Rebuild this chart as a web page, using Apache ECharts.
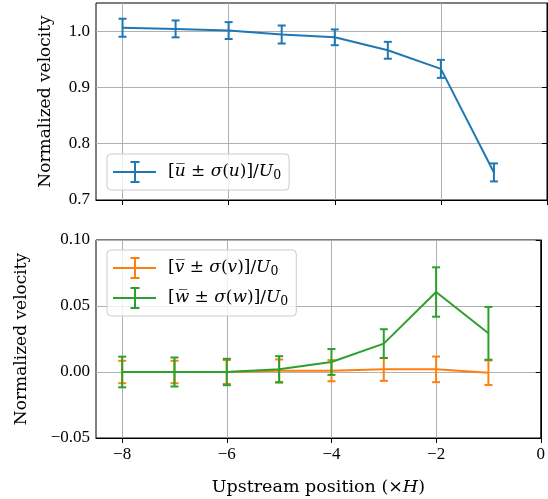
<!DOCTYPE html>
<html>
<head>
<meta charset="utf-8">
<script src="https://cdn.jsdelivr.net/npm/echarts@6/dist/echarts.min.js"></script>
<style>
  html, body { margin: 0; padding: 0; background: #fff; }
  #chart { width: 548px; height: 499px; }
</style>
</head>
<body>
<div id="chart"></div>
<script>
// Upstream stations (multiples of obstacle height H)
const upstream = [-8, -7, -6, -5, -4, -3, -2, -1];

// Streamwise component: mean and standard deviation, normalised by U0
const uMean = [1.006, 1.004, 1.001, 0.994, 0.989, 0.966, 0.933, 0.749];
const uStd  = [0.016, 0.015, 0.015, 0.016, 0.014, 0.015, 0.016, 0.016];

// Lateral component
const vMean = [0.000, 0.000, 0.000, 0.001, 0.001, 0.002, 0.002, -0.0005];
const vStd  = [0.0085, 0.0085, 0.009, 0.0085, 0.008, 0.0087, 0.0097, 0.0093];

// Vertical component
const wMean = [0.000, 0.000, 0.000, 0.002, 0.0076, 0.0215, 0.0606, 0.0293];
const wStd  = [0.0116, 0.011, 0.010, 0.010, 0.0098, 0.0109, 0.0187, 0.020];

const xTicks = [-8, -6, -4, -2, 0];
const yTicksTop = [0.7, 0.8, 0.9, 1.0];
const yTicksBottom = [-0.05, 0.00, 0.05, 0.10];

const nameU = 'u';
const nameV = 'v';
const nameW = 'w';

const C_BLUE = '#1f77b4', C_ORANGE = '#ff7f0e', C_GREEN = '#2ca02c';
const TICK_FONT = 'Liberation Serif';
const TEXT_FONT = 'DejaVu Serif';
const minus = s => String(s).replace('-', '\u2212');

// Legend glyph: line with a capped vertical error bar
const errIcon = 'path://M0 10H43V12H0Z M21 0H23V22H21Z M17.5 0H26.5V2H17.5Z M17.5 20H26.5V22H17.5Z';

function legendText(c) {
  return '{b|[}{i|' + c + '\u0305}{b| \u00b1 }{i|\u03c3}{b|(}{i|' + c + '}{b|)]/}{i|U}{s|0}';
}
const legendRich = {
  b: { fontFamily: TEXT_FONT, fontSize: 17, color: '#000' },
  i: { fontFamily: TEXT_FONT, fontSize: 17, fontStyle: 'italic', color: '#000' },
  s: { fontFamily: TEXT_FONT, fontSize: 12.5, color: '#000', padding: [7, 0, 0, 0] }
};

function bars(mean, std) {
  return upstream.map((x, i) => [x, mean[i] - std[i], mean[i] + std[i]]);
}

function errorRenderer(color) {
  return function (params, api) {
    const x = api.value(0);
    const lo = api.coord([x, api.value(1)]);
    const hi = api.coord([x, api.value(2)]);
    const cap = 4;
    const style = { stroke: color, lineWidth: 2, fill: null };
    return {
      type: 'group',
      children: [
        { type: 'line', shape: { x1: lo[0], y1: lo[1], x2: hi[0], y2: hi[1] }, style },
        { type: 'line', shape: { x1: lo[0] - cap, y1: lo[1], x2: lo[0] + cap, y2: lo[1] }, style },
        { type: 'line', shape: { x1: hi[0] - cap, y1: hi[1], x2: hi[0] + cap, y2: hi[1] }, style }
      ]
    };
  };
}

function xAxisFor(gridIndex, showLabels) {
  return {
    type: 'value', gridIndex, min: -8.5, max: 0,
    axisLine: { show: true, onZero: false, lineStyle: { color: '#000', width: 1 } },
    axisTick: { show: true, inside: false, length: 5, customValues: xTicks, lineStyle: { color: '#000' } },
    axisLabel: {
      show: showLabels, customValues: xTicks, margin: 8,
      fontFamily: TICK_FONT, fontSize: 17, color: '#000', formatter: v => minus(v)
    },
    splitLine: { show: true, lineStyle: { color: '#b0b0b0', width: 1 } },
    name: showLabels ? 'Upstream position (\u00d7{i|H})' : '',
    nameLocation: 'middle', nameGap: 40,
    nameTextStyle: {
      fontFamily: TEXT_FONT, fontSize: 17.5, color: '#000',
      rich: { i: { fontFamily: TEXT_FONT, fontSize: 17.5, fontStyle: 'italic', color: '#000' } }
    }
  };
}

function yAxisFor(gridIndex, min, max, ticks, digits, gap) {
  return {
    type: 'value', gridIndex, min, max,
    axisLine: { show: true, lineStyle: { color: '#000', width: 1 } },
    axisTick: { show: true, inside: false, length: 5, customValues: ticks, lineStyle: { color: '#000' } },
    axisLabel: {
      customValues: ticks, margin: 6,
      fontFamily: TICK_FONT, fontSize: 17, color: '#000',
      formatter: v => minus(Number(v).toFixed(digits))
    },
    splitLine: { show: true, lineStyle: { color: '#b0b0b0', width: 1 } },
    name: 'Normalized velocity', nameLocation: 'middle', nameGap: gap, nameRotate: 90,
    nameTextStyle: { fontFamily: TEXT_FONT, fontSize: 17, color: '#000' }
  };
}

const chart = echarts.init(document.getElementById('chart'), null, { renderer: 'canvas' });

chart.setOption({
  animation: false,
  backgroundColor: '#fff',
  grid: [
    { left: 96, right: 1, top: 3, height: 197, show: true, borderColor: '#000', borderWidth: 1, backgroundColor: 'transparent' },
    { left: 96, right: 1, top: 240, height: 198, show: true, borderColor: '#000', borderWidth: 1, backgroundColor: 'transparent' }
  ],
  xAxis: [xAxisFor(0, false), xAxisFor(1, true)],
  yAxis: [
    yAxisFor(0, 0.7, 1.05, yTicksTop, 1, 42),
    yAxisFor(1, -0.05, 0.10, yTicksBottom, 2, 66)
  ],
  legend: [
    {
      left: 107, top: 154, orient: 'vertical',
      itemWidth: 43, itemHeight: 22, itemGap: 8,
      padding: [7, 8, 7, 6],
      backgroundColor: 'rgba(255,255,255,0.8)', borderColor: '#cccccc', borderWidth: 1, borderRadius: 4,
      data: [{ name: nameU, icon: errIcon, itemStyle: { color: C_BLUE } }],
      formatter: n => legendText(n),
      textStyle: { rich: legendRich, padding: [0, 0, 0, 7] },
      selectedMode: false
    },
    {
      left: 107, top: 250, orient: 'vertical',
      itemWidth: 43, itemHeight: 22, itemGap: 8,
      padding: [7, 8, 7, 6],
      backgroundColor: 'rgba(255,255,255,0.8)', borderColor: '#cccccc', borderWidth: 1, borderRadius: 4,
      data: [
        { name: nameV, icon: errIcon, itemStyle: { color: C_ORANGE } },
        { name: nameW, icon: errIcon, itemStyle: { color: C_GREEN } }
      ],
      formatter: n => legendText(n),
      textStyle: { rich: legendRich, padding: [0, 0, 0, 7] },
      selectedMode: false
    }
  ],
  series: [
    {
      name: nameU, type: 'line', xAxisIndex: 0, yAxisIndex: 0,
      data: upstream.map((x, i) => [x, uMean[i]]),
      showSymbol: false, lineStyle: { color: C_BLUE, width: 2 }, itemStyle: { color: C_BLUE }, z: 3
    },
    {
      name: nameU, type: 'custom', xAxisIndex: 0, yAxisIndex: 0,
      data: bars(uMean, uStd), renderItem: errorRenderer(C_BLUE),
      encode: { x: 0, y: [1, 2] }, itemStyle: { color: C_BLUE }, z: 3
    },
    {
      name: nameV, type: 'line', xAxisIndex: 1, yAxisIndex: 1,
      data: upstream.map((x, i) => [x, vMean[i]]),
      showSymbol: false, lineStyle: { color: C_ORANGE, width: 2 }, itemStyle: { color: C_ORANGE }, z: 3
    },
    {
      name: nameV, type: 'custom', xAxisIndex: 1, yAxisIndex: 1,
      data: bars(vMean, vStd), renderItem: errorRenderer(C_ORANGE),
      encode: { x: 0, y: [1, 2] }, itemStyle: { color: C_ORANGE }, z: 3
    },
    {
      name: nameW, type: 'line', xAxisIndex: 1, yAxisIndex: 1,
      data: upstream.map((x, i) => [x, wMean[i]]),
      showSymbol: false, lineStyle: { color: C_GREEN, width: 2 }, itemStyle: { color: C_GREEN }, z: 4
    },
    {
      name: nameW, type: 'custom', xAxisIndex: 1, yAxisIndex: 1,
      data: bars(wMean, wStd), renderItem: errorRenderer(C_GREEN),
      encode: { x: 0, y: [1, 2] }, itemStyle: { color: C_GREEN }, z: 4
    }
  ]
});
</script>
</body>
</html>
